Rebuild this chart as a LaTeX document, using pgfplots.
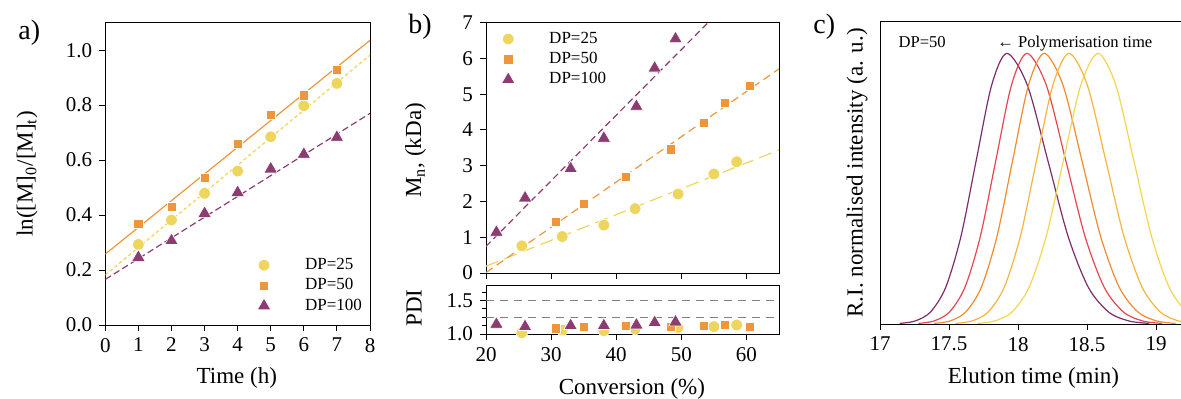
\documentclass[border=0pt]{standalone}
\usepackage{fontspec}
\setmainfont{Liberation Serif}
\usepackage{pgfplots}
\pgfplotsset{compat=1.18}
\definecolor{cyel}{HTML}{EDD55E}
\definecolor{corg}{HTML}{F0963A}
\definecolor{cpur}{HTML}{8B3D72}
\definecolor{cA}{HTML}{7D2D6B}
\definecolor{cB}{HTML}{E8464F}
\definecolor{cC}{HTML}{F28A2E}
\definecolor{cD}{HTML}{F7B43C}
\definecolor{cE}{HTML}{F6D54E}
\pgfplotsset{
  every axis/.append style={
    scale only axis,
    /pgf/number format/assume math mode=true,
    tick align=outside,
    tick pos=left,
    major tick length=3pt,
    minor tick length=1.8pt,
    tick label style={font=\fontsize{10.5}{12}\selectfont},
    label style={font=\fontsize{11.5}{13}\selectfont},
    axis line style={line width=0.5pt},
    every tick/.append style={black, line width=0.5pt},
  },
  mylegmark/.style={legend image code/.code={\draw[##1, only marks, mark repeat=2, mark phase=2] plot coordinates {(0cm,0cm) (0.1cm,0cm) (0.75cm,0cm)}; \path[draw=none, fill=none] (0cm,0cm) -- (0.75cm,0cm);}},
  m25/.style={only marks, mark=*, mark size=2.9pt, mark options={fill=cyel, draw=white, line width=0.3pt}, mylegmark},
  m50/.style={only marks, mark=square*, mark size=2.3pt, mark options={fill=corg, draw=white, line width=0.3pt}, mylegmark},
  m100/.style={only marks, mark=triangle*, mark size=3.9pt, mark options={fill=cpur, draw=white, line width=0.3pt}, mylegmark},
}
\begin{document}
\begin{tikzpicture}
\useasboundingbox (0,0) rectangle (590.5pt,199pt);
% panel letters
\node[anchor=base west, inner sep=0pt, font=\fontsize{14}{16}\selectfont] at (9pt,179.5pt) {a)};
\node[anchor=base west, inner sep=0pt, font=\fontsize{14}{16}\selectfont] at (204pt,182.5pt) {b)};
\node[anchor=base west, inner sep=0pt, font=\fontsize{14}{16}\selectfont] at (406.5pt,182.5pt) {c)};

% ---------------- panel a
\begin{axis}[at={(52.65pt,36.5pt)}, anchor=south west, width=132.35pt, height=151.15pt,
  xmin=0, xmax=8, ymin=0, ymax=1.1, xtick={0,1,2,3,4,5,6,7,8}, ytick={0,0.2,0.4,0.6,0.8,1.0},
  yticklabel style={/pgf/number format/.cd, fixed, fixed zerofill, precision=1},
  xlabel={Time (h)}, ylabel={ln([M]\textsubscript{0}/[M]\textsubscript{t})},
  xlabel style={at={(axis description cs:0.497,-0.175)}, anchor=center},
  ylabel style={at={(axis description cs:-0.295,0.5)}, anchor=center},
  legend cell align=left,
  legend style={draw=none, fill=none, font=\fontsize{8.5}{10}\selectfont, row sep=-1pt,
    at={(0.55,0.249)}, anchor=north west},
]
\addplot[corg, line width=0.6pt, forget plot] coordinates {(0,0.258) (8,1.036)};
\addplot[cyel, line width=0.6pt, dash pattern=on 1.7pt off 1.3pt, forget plot] coordinates {(0,0.182) (8,0.982)};
\addplot[cpur, line width=0.6pt, dash pattern=on 3.3pt off 1.7pt, forget plot] coordinates {(0,0.166) (8,0.770)};
\addplot[m25] coordinates {(1,0.293)(2,0.382)(3,0.479)(4,0.560)(5,0.685)(6,0.798)(7,0.879)};
\addlegendentry{DP=25}
\addplot[m50] coordinates {(1,0.367)(2,0.430)(3,0.536)(4,0.658)(5,0.764)(6,0.836)(7,0.930)};
\addlegendentry{DP=50}
\addplot[m100] coordinates {(1,0.246)(2,0.307)(3,0.406)(4,0.482)(5,0.568)(6,0.621)(7,0.683)};
\addlegendentry{DP=100}
\end{axis}

% ---------------- panel b top
\begin{axis}[at={(243pt,62.5pt)}, anchor=south west, width=146.5pt, height=125.15pt,
  xmin=20, xmax=65, ymin=0, ymax=7, xtick={20,30,40,50,60}, xticklabels={}, ytick={0,1,2,3,4,5,6,7},
  ylabel={M\textsubscript{n}, (kDa)},
  ylabel style={at={(axis description cs:-0.24,0.49)}, anchor=center},
  legend cell align=left,
  legend style={draw=none, fill=none, font=\fontsize{8.5}{10}\selectfont, row sep=-1pt,
    at={(0.031,0.997)}, anchor=north west},
]
\addplot[cyel, line width=0.6pt, dash pattern=on 6.5pt off 3.3pt, forget plot] coordinates {(20,0.19) (65,3.44)};
\addplot[corg, line width=0.6pt, dash pattern=on 4pt off 2.5pt, forget plot] coordinates {(20,0.013) (65,5.71)};
\addplot[cpur, line width=0.6pt, dash pattern=on 3.3pt off 2pt, forget plot] coordinates {(20,0.745) (65,9.0)};
\addplot[m25] coordinates {(25.5,0.76)(31.7,1.02)(38.1,1.34)(42.9,1.80)(49.5,2.21)(55.0,2.77)(58.5,3.11)};
\addlegendentry{DP=25}
\addplot[m50] coordinates {(30.7,1.44)(35.0,1.94)(41.5,2.70)(48.4,3.46)(53.4,4.21)(56.7,4.75)(60.5,5.23)};
\addlegendentry{DP=50}
\addplot[m100] coordinates {(21.6,1.14)(26.0,2.10)(33.0,2.92)(38.1,3.77)(43.1,4.66)(45.9,5.73)(49.1,6.55)};
\addlegendentry{DP=100}
\end{axis}

% ---------------- panel b bottom (PDI)
\begin{axis}[at={(243pt,32pt)}, anchor=south west, width=146.5pt, height=24.5pt,
  xmin=20, xmax=65, ymin=1, ymax=1.73, xtick={20,30,40,50,60}, ytick={1.0,1.5},
  minor ytick={1.125,1.25,1.375,1.625},
  yticklabel style={/pgf/number format/.cd, fixed, fixed zerofill, precision=1},
  clip=false,
  xlabel={Conversion (\%)}, ylabel={PDI},
  xlabel style={at={(axis description cs:0.498,-1.13)}, anchor=center},
  ylabel style={at={(axis description cs:-0.245,0.53)}, anchor=center},
]
\addplot[gray, line width=0.5pt, dash pattern=on 4pt off 3pt] coordinates {(20,1.25) (65,1.25)};
\addplot[gray, line width=0.5pt, dash pattern=on 4pt off 3pt] coordinates {(20,1.5) (65,1.5)};
\addplot[m25] coordinates {(25.5,1.02)(31.7,1.06)(38.1,1.05)(42.9,1.075)(49.5,1.095)(55.0,1.11)(58.5,1.135)};
\addplot[m50] coordinates {(30.7,1.085)(35.0,1.11)(41.5,1.12)(48.4,1.11)(53.4,1.12)(56.7,1.135)(60.5,1.11)};
\addplot[m100] coordinates {(21.6,1.145)(26.0,1.11)(33.0,1.125)(38.1,1.125)(43.1,1.135)(45.9,1.17)(49.1,1.18)};
\end{axis}

% ---------------- panel c
\begin{axis}[at={(440pt,37pt)}, anchor=south west, width=151.1pt, height=151.15pt,
  xmin=17, xmax=19.19, ymin=0, ymax=1.117, xtick={17,17.5,18,18.5,19}, ytick=\empty,
  xlabel={Elution time (min)}, ylabel={R.I. normalised intensity (a. u.)},
  xlabel style={at={(axis description cs:0.508,-0.179)}, anchor=center},
  ylabel style={at={(axis description cs:-0.076,0.5)}, anchor=center},
]
\addplot[cA, line width=0.6pt, smooth] coordinates {
(17.143,0.0022)(17.254,0.0111)(17.365,0.0439)(17.476,0.1353)(17.587,0.3247)(17.698,0.6065)(17.809,0.8825)(17.92,1)
(18.0675,0.8825)(18.215,0.6065)(18.3625,0.3247)(18.51,0.1353)(18.6575,0.0439)(18.805,0.0111)(18.9525,0.0022)};
\addplot[cB, line width=0.6pt, smooth] coordinates {
(17.2775,0.0022)(17.39,0.0111)(17.5025,0.0439)(17.615,0.1353)(17.7275,0.3247)(17.84,0.6065)(17.9525,0.8825)(18.065,1)
(18.205,0.8825)(18.345,0.6065)(18.485,0.3247)(18.625,0.1353)(18.765,0.0439)(18.905,0.0111)(19.045,0.0022)};
\addplot[cC, line width=0.6pt, smooth] coordinates {
(17.392,0.0022)(17.506,0.0111)(17.62,0.0439)(17.734,0.1353)(17.848,0.3247)(17.962,0.6065)(18.076,0.8825)(18.19,1)
(18.326,0.8825)(18.462,0.6065)(18.598,0.3247)(18.734,0.1353)(18.87,0.0439)(19.006,0.0111)(19.142,0.0022)};
\addplot[cD, line width=0.6pt, smooth] coordinates {
(17.5475,0.0022)(17.665,0.0111)(17.7825,0.0439)(17.9,0.1353)(18.0175,0.3247)(18.135,0.6065)(18.2525,0.8825)(18.37,1)
(18.5025,0.8825)(18.635,0.6065)(18.7675,0.3247)(18.9,0.1353)(19.0325,0.0439)(19.165,0.0111)(19.2975,0.0022)};
\addplot[cE, line width=0.6pt, smooth] coordinates {
(17.705,0.0022)(17.83,0.0111)(17.955,0.0439)(18.08,0.1353)(18.205,0.3247)(18.33,0.6065)(18.455,0.8825)(18.58,1)
(18.709,0.8825)(18.838,0.6065)(18.967,0.3247)(19.096,0.1353)(19.225,0.0439)(19.354,0.0111)(19.483,0.0022)};
\node[anchor=base west, inner sep=0pt, font=\fontsize{8.3}{10}\selectfont] at (rel axis cs:0.06,0.916) {DP=50};
\node[anchor=base west, inner sep=0pt, font=\fontsize{8.3}{10}\selectfont] at (rel axis cs:0.387,0.916) {←\ Polymerisation time};
\end{axis}
\end{tikzpicture}
\end{document}
